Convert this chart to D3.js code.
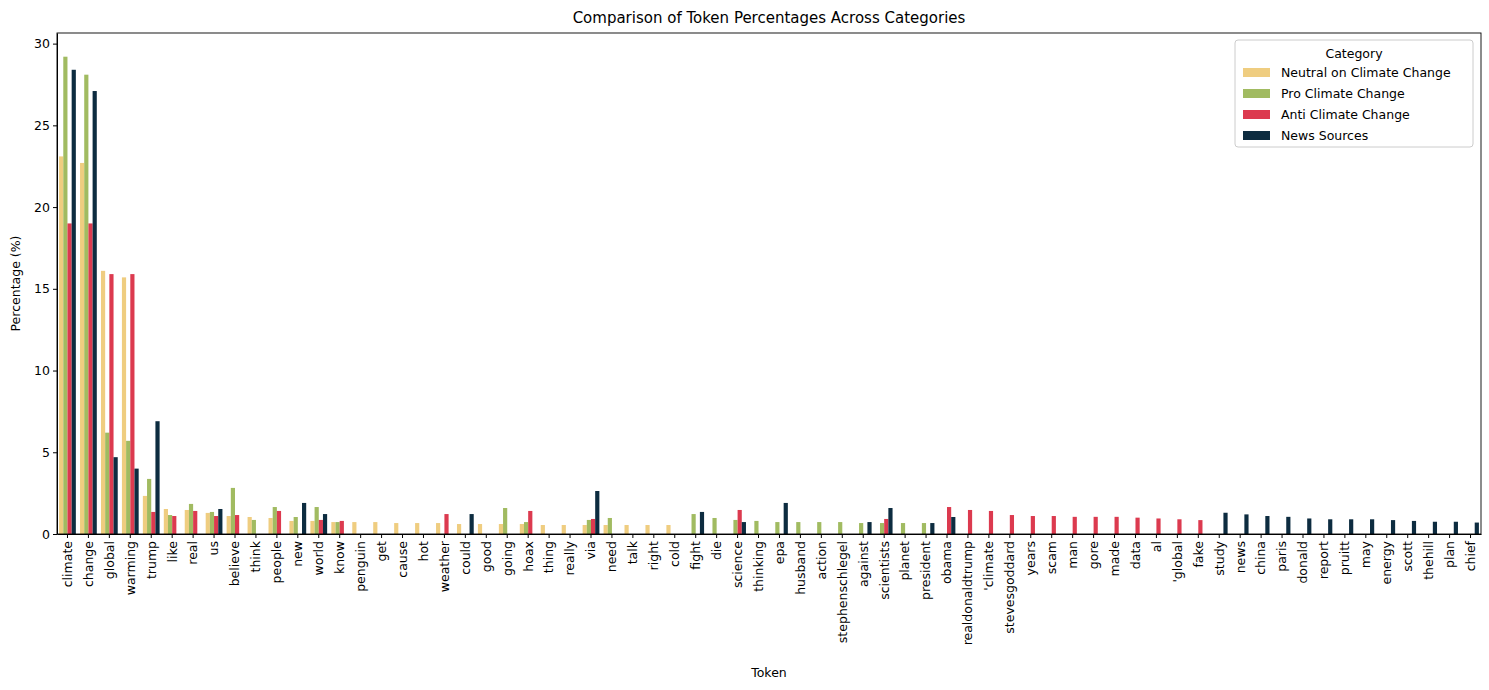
<!DOCTYPE html>
<html><head><meta charset="utf-8">
<script src="https://cdn.jsdelivr.net/npm/d3@7"></script>
<style>body{margin:0;background:#fff;font-family:"DejaVu Sans",sans-serif}</style>
</head><body><svg id="c" width="1489" height="690"></svg>
<script>
const tokens=["climate","change","global","warming","trump","like","real","us","believe","think","people","new","world","know","penguin","get","cause","hot","weather","could","good","going","hoax","thing","really","via","need","talk","right","cold","fight","die","science","thinking","epa","husband","action","stephenschlegel","against","scientists","planet","president","obama","realdonaldtrump","'climate","stevesgoddard","years","scam","man","gore","made","data","al","'global","fake","study","news","china","paris","donald","report","pruitt","may","energy","scott","thehill","plan","chief"];
const seriesNames=["Neutral on Climate Change","Pro Climate Change","Anti Climate Change","News Sources"];
const colors=["#efcd80","#a1bb61","#dc3a4f","#0d2c40"];
const N=null;
const neutral=[23.1,22.7,16.1,15.7,2.33,1.53,1.47,1.29,1.1,1.04,0.98,0.8,0.8,0.73,0.73,0.73,0.67,0.67,0.67,0.61,0.61,0.61,0.61,0.55,0.55,0.55,0.55,0.55,0.55,0.55,N,N,N,N,N,N,N,N,N,N,N,N,N,N,N,N,N,N,N,N,N,N,N,N,N,N,N,N,N,N,N,N,N,N,N,N,N,N];
const pro=[29.2,28.1,6.2,5.7,3.37,1.16,1.84,1.35,2.82,0.86,1.65,1.04,1.65,0.73,N,N,N,N,N,N,N,1.59,0.73,N,N,0.86,0.98,N,N,N,1.22,0.98,0.86,0.8,0.73,0.73,0.73,0.73,0.67,0.67,0.67,0.67,N,N,N,N,N,N,N,N,N,N,N,N,N,N,N,N,N,N,N,N,N,N,N,N,N,N];
const anti=[19.0,19.0,15.9,15.9,1.35,1.1,1.41,1.1,1.16,N,1.41,N,0.86,0.8,N,N,N,N,1.22,N,N,N,1.41,N,N,0.92,N,N,N,N,N,N,1.47,N,N,N,N,N,N,0.92,N,N,1.65,1.47,1.41,1.16,1.1,1.1,1.05,1.05,1.05,1.0,0.95,0.9,0.85,N,N,N,N,N,N,N,N,N,N,N,N,N];
const news=[28.4,27.1,4.7,4.0,6.9,N,N,1.53,N,N,N,1.9,1.22,N,N,N,N,N,N,1.22,N,N,N,N,N,2.63,N,N,N,N,1.35,N,0.73,N,1.9,N,N,N,0.73,1.59,N,0.67,1.04,N,N,N,N,N,N,N,N,N,N,N,N,1.3,1.2,1.1,1.05,0.95,0.9,0.9,0.9,0.85,0.8,0.75,0.75,0.7];
const yTicks=[0,5,10,15,20,25,30];
const series=[neutral,pro,anti,news];
const svg=d3.select("#c");
const L=57,R=1481,T=33,B=534;
const x=d3.scaleBand().domain(tokens).range([L,R]).paddingInner(0).paddingOuter(0);
const y=d3.scaleLinear().domain([0,30.65]).range([B,T]);
const sub=d3.scaleBand().domain(d3.range(4)).range([x.bandwidth()*0.1,x.bandwidth()*0.9]);
series.forEach((s,si)=>{
  svg.append("g").selectAll("rect").data(tokens.map((t,i)=>({t,v:s[i]})).filter(d=>d.v!=null)).join("rect")
   .attr("x",d=>x(d.t)+sub(si)).attr("width",sub.bandwidth())
   .attr("y",d=>y(d.v)).attr("height",d=>B-y(d.v)).attr("fill",colors[si]);
});
const xa=svg.append("g").attr("transform",`translate(0,${B})`).call(d3.axisBottom(x).tickSize(4).tickSizeOuter(0));
xa.selectAll("text").attr("transform","rotate(-90)").attr("text-anchor","end").attr("x",-7).attr("y",0).attr("dy","0.35em").style("font-size","12.5px").style("font-family","DejaVu Sans").attr("fill","#000");
const ya=svg.append("g").attr("transform",`translate(${L},0)`).call(d3.axisLeft(y).tickValues(yTicks).tickSize(4).tickSizeOuter(0));
ya.selectAll("text").style("font-size","12.5px").style("font-family","DejaVu Sans").attr("fill","#000");
svg.append("rect").attr("x",L).attr("y",T).attr("width",R-L).attr("height",B-T).attr("fill","none").attr("stroke","#000").attr("stroke-width",0.9);
svg.append("text").attr("x",(L+R)/2).attr("y",23).attr("text-anchor","middle").style("font-size","15px").text("Comparison of Token Percentages Across Categories");
svg.append("text").attr("x",(L+R)/2).attr("y",677).attr("text-anchor","middle").style("font-size","12.5px").text("Token");
svg.append("text").attr("transform",`translate(20,${(T+B)/2}) rotate(-90)`).attr("text-anchor","middle").style("font-size","12.5px").text("Percentage (%)");
const lg=svg.append("g").attr("transform","translate(1235,40)");
lg.append("rect").attr("width",238).attr("height",107).attr("rx",3).attr("fill","#fff").attr("fill-opacity",0.8).attr("stroke","#ccc");
lg.append("text").attr("x",119).attr("y",18).attr("text-anchor","middle").style("font-size","12.5px").text("Category");
seriesNames.forEach((n,i)=>{
  const g=lg.append("g").attr("transform",`translate(8,${27+i*21})`);
  g.append("rect").attr("width",27).attr("height",9).attr("y",1).attr("fill",colors[i]);
  g.append("text").attr("x",38).attr("y",10).style("font-size","12.5px").text(n);
});
</script></body></html>
